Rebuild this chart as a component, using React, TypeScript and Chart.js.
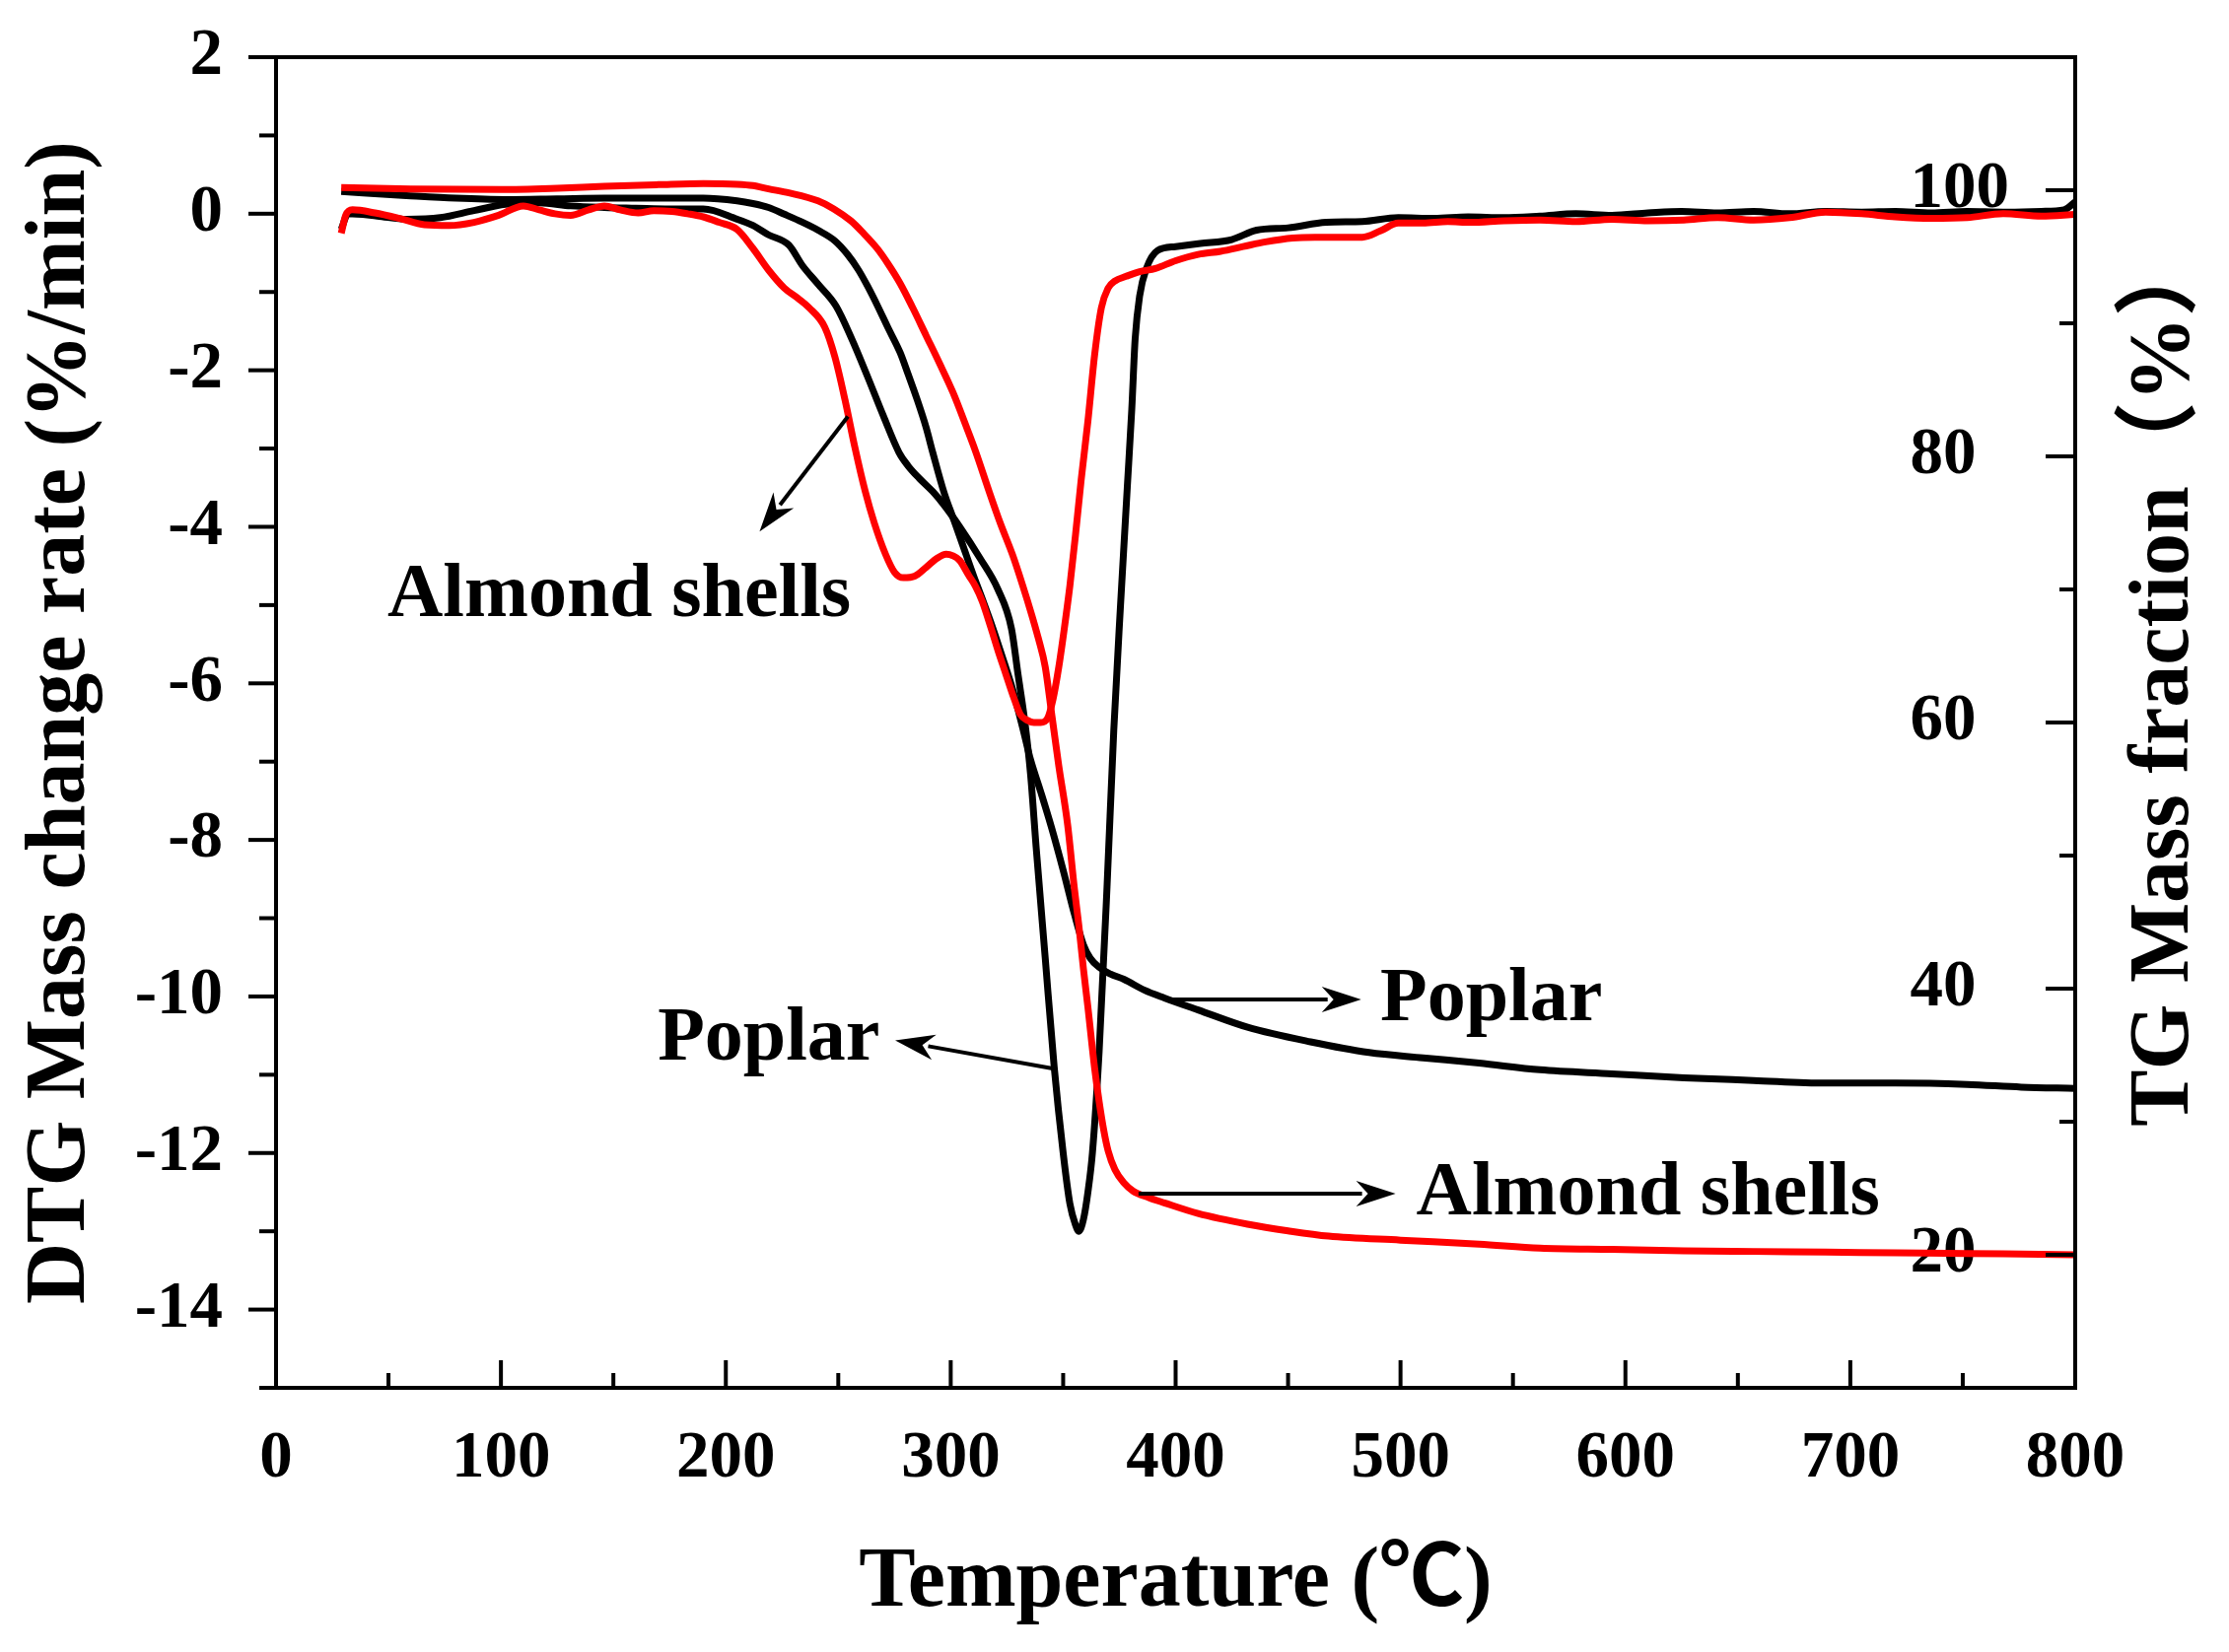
import React, { useEffect, useRef } from 'react';
import { Chart, registerables } from 'chart.js';

Chart.register(...registerables);

// ---------- data (temperature in °C) ----------
// Poplar DTG (%/min), left axis
const poplarDtgT = [29, 32, 45, 58, 73, 88, 102, 117, 131, 146, 160, 175, 190, 205, 212, 219, 228, 234, 241, 249, 256, 263, 270, 277, 281, 286, 292, 297, 304, 313, 321, 327, 330, 333, 335.5, 338, 342, 346, 350, 353, 355.5, 357, 359, 361, 363, 366, 369.5, 372.5, 375.5, 378.5, 380.5, 382, 384, 387, 392, 400, 411, 425, 436, 450, 467, 483, 499, 515, 530, 546, 562, 578, 594, 610, 625, 641, 657, 673, 689, 705, 720, 736, 752, 768, 785, 795, 800];
const poplarDtgV = [-0.2, 0.0, -0.03, -0.07, -0.05, 0.04, 0.12, 0.14, 0.1, 0.08, 0.07, 0.06, 0.06, -0.07, -0.15, -0.27, -0.4, -0.66, -0.9, -1.18, -1.6, -2.08, -2.58, -3.05, -3.22, -3.38, -3.55, -3.72, -4.0, -4.4, -4.8, -5.3, -5.9, -6.5, -7.16, -8.1, -9.5, -10.9, -12.0, -12.65, -12.92, -13.0, -12.85, -12.5, -12.0, -10.7, -8.6, -6.6, -5.0, -3.5, -2.5, -1.6, -1.05, -0.7, -0.47, -0.42, -0.38, -0.33, -0.21, -0.18, -0.11, -0.1, -0.05, -0.06, -0.04, -0.05, -0.03, 0.0, -0.02, 0.01, 0.03, 0.01, 0.03, 0.0, 0.03, 0.02, 0.03, 0.01, 0.03, 0.02, 0.03, 0.05, 0.15];

// Almond shells DTG (%/min), left axis
const almondDtgT = [29, 31, 34, 44, 55, 66, 77, 88, 99, 110, 117, 124, 131, 139, 146, 153, 161, 168, 176, 183, 190, 197, 205, 212, 219, 226, 232, 237, 244, 248.5, 253, 257.5, 262, 266, 271, 275, 279, 284, 289, 294, 298, 301, 304, 308, 311, 314, 318, 321, 324.5, 328, 331, 334, 337, 340, 343, 345.5, 348, 350.5, 353, 355.5, 358, 361, 364, 367, 370, 373, 378, 384, 391, 400, 410, 420, 430, 440, 452, 462, 472, 483, 491, 499, 510, 521, 531, 546, 562, 578, 594, 610, 626, 641, 657, 673, 689, 705, 720, 736, 752, 768, 785, 800];
const almondDtgV = [-0.25, -0.02, 0.05, 0.01, -0.06, -0.14, -0.15, -0.11, -0.02, 0.1, 0.05, 0.0, -0.02, 0.05, 0.1, 0.05, 0.01, 0.04, 0.03, 0.0, -0.04, -0.11, -0.2, -0.44, -0.72, -0.95, -1.08, -1.2, -1.45, -1.83, -2.38, -3.0, -3.55, -3.95, -4.35, -4.58, -4.65, -4.63, -4.52, -4.4, -4.35, -4.37, -4.43, -4.62, -4.76, -4.95, -5.3, -5.58, -5.88, -6.18, -6.4, -6.47, -6.5, -6.5, -6.45, -6.2, -5.8, -5.3, -4.75, -4.1, -3.4, -2.65, -1.8, -1.2, -0.95, -0.86, -0.8, -0.74, -0.7, -0.6, -0.52, -0.48, -0.42, -0.36, -0.31, -0.3, -0.3, -0.3, -0.22, -0.12, -0.12, -0.1, -0.11, -0.09, -0.08, -0.1, -0.07, -0.09, -0.08, -0.05, -0.08, -0.05, 0.02, 0.0, -0.04, -0.06, -0.05, 0.0, -0.03, -0.01];

// Poplar TG (%), right axis
const poplarTgT = [29, 58, 80, 102, 125, 146, 170, 190, 205, 212, 219, 226, 234, 241, 248.5, 254, 259, 263, 267.5, 272, 277.5, 281, 285, 289, 292, 297, 301, 305, 310, 314, 318.5, 323, 327.5, 332, 335.5, 340, 345, 350, 355, 359, 362, 366, 371, 377, 386, 395, 410, 432, 460, 486, 510, 535, 562, 594, 626, 657, 689, 720, 752, 776, 800];
const poplarTgV = [99.9, 99.6, 99.4, 99.3, 99.35, 99.4, 99.4, 99.4, 99.2, 99.0, 98.7, 98.2, 97.6, 97.0, 96.2, 95.2, 94.0, 92.8, 91.3, 89.7, 87.8, 86.2, 84.3, 82.2, 80.3, 77.3, 75.4, 73.5, 71.1, 69.3, 67.2, 64.9, 62.5, 59.6, 57.2, 54.8, 52.0, 48.9, 45.6, 43.3, 42.3, 41.6, 41.1, 40.7, 39.9, 39.3, 38.4, 37.1, 36.0, 35.2, 34.8, 34.4, 33.9, 33.6, 33.3, 33.1, 32.9, 32.9, 32.8, 32.6, 32.5];

// Almond shells TG (%), right axis
const almondTgT = [29, 60, 100, 125, 146, 170, 190, 205, 212, 219, 228, 241, 248, 255.6, 261, 267.4, 272, 277.5, 283, 289, 295, 301, 307, 311, 317, 322, 327.5, 332, 336, 339, 342, 345, 348, 352, 355, 357, 359, 361, 364, 366, 368, 370, 373, 377, 381, 388, 395, 410, 432, 450, 468, 500, 535, 562, 594, 626, 657, 689, 720, 752, 776, 800];
const almondTgV = [100.2, 100.1, 100.05, 100.15, 100.3, 100.42, 100.5, 100.45, 100.35, 100.1, 99.8, 99.2, 98.6, 97.7, 96.8, 95.6, 94.5, 93.0, 91.2, 89.1, 87.0, 84.8, 82.2, 80.4, 77.4, 75.0, 72.6, 70.3, 68.1, 66.3, 64.2, 60.5, 56.8, 52.3, 47.5, 44.7, 41.5, 38.6, 34.0, 31.5, 29.4, 27.8, 26.4, 25.4, 24.8, 24.3, 23.9, 23.1, 22.3, 21.8, 21.4, 21.1, 20.8, 20.5, 20.4, 20.3, 20.25, 20.2, 20.15, 20.1, 20.05, 20.0];

// Axis titles
const xTitle = 'Temperature (℃)';
const leftTitle = 'DTG Mass change rate (%/min)';
const rightTitle = 'TG Mass fraction（%）';

// Annotations (data units: temperature, DTG value)
const noteTexts = ['Almond shells', 'Poplar', 'Poplar', 'Almond shells'];
const noteX = [49.5, 169.7, 491, 507];
const noteY = [-5.14, -10.81, -10.3, -12.78];
const arrowFromX = [254.3, 345.3, 397.1, 383.5];
const arrowFromY = [-2.59, -10.92, -10.04, -12.52];
const arrowToX = [215, 275.3, 482.5, 497.8];
const arrowToY = [-4.06, -10.56, -10.04, -12.52];

const FONT = "'Liberation Serif', 'Times New Roman', 'Noto Sans CJK SC', serif";

const toPts = (xs: number[], ys: number[]) => xs.map((x, i) => ({ x, y: ys[i] }));

const framePlugin = {
  id: 'frameTicks',
  afterDraw(chart: any) {
    const { ctx, chartArea, scales } = chart;
    const { left, right, top, bottom } = chartArea;
    ctx.save();
    ctx.strokeStyle = '#000';
    ctx.lineWidth = 4;
    ctx.lineCap = 'butt';
    const seg = (x1: number, y1: number, x2: number, y2: number) => {
      ctx.beginPath();
      ctx.moveTo(x1, y1);
      ctx.lineTo(x2, y2);
      ctx.stroke();
    };
    scales.x.ticks.forEach((t: any) => {
      const px = scales.x.getPixelForValue(t.value);
      const len = Math.round(t.value) % 100 === 0 ? 28 : 15;
      seg(px, bottom, px, bottom - len);
    });
    scales.y.ticks.forEach((t: any) => {
      const py = scales.y.getPixelForValue(t.value);
      const len = Math.abs(Math.round(t.value)) % 2 === 0 ? 28 : 17;
      seg(left, py, left - len, py);
    });
    scales.y2.ticks.forEach((t: any) => {
      if (t.value <= 10 || t.value >= 110) return;
      const py = scales.y2.getPixelForValue(t.value);
      const len = Math.round(t.value) % 20 === 0 ? 30 : 16;
      seg(right, py, right - len, py);
    });
    ctx.lineJoin = 'miter';
    ctx.strokeRect(left, top, right - left, bottom - top);

    // right axis title (reads bottom to top)
    ctx.fillStyle = '#000';
    ctx.font = `bold 86px ${FONT}`;
    ctx.textAlign = 'center';
    ctx.textBaseline = 'middle';
    ctx.translate(right + 92, (top + bottom) / 2 - 44);
    ctx.rotate(-Math.PI / 2);
    ctx.fillText(rightTitle, 0, 0);
    ctx.restore();
  },
};

const notePlugin = {
  id: 'notes',
  afterDatasetsDraw(chart: any) {
    const { ctx, scales } = chart;
    const sx = scales.x;
    const sy = scales.y;
    ctx.save();
    ctx.fillStyle = '#000';
    ctx.strokeStyle = '#000';
    ctx.font = `bold 78px ${FONT}`;
    ctx.textAlign = 'left';
    ctx.textBaseline = 'alphabetic';
    noteTexts.forEach((t, i) => {
      ctx.fillText(t, sx.getPixelForValue(noteX[i]), sy.getPixelForValue(noteY[i]));
    });
    arrowFromX.forEach((_, i) => {
      const x1 = sx.getPixelForValue(arrowFromX[i]);
      const y1 = sy.getPixelForValue(arrowFromY[i]);
      const x2 = sx.getPixelForValue(arrowToX[i]);
      const y2 = sy.getPixelForValue(arrowToY[i]);
      const ang = Math.atan2(y2 - y1, x2 - x1);
      const headLen = 40;
      const headW = 13;
      const bx = x2 - headLen * Math.cos(ang);
      const by = y2 - headLen * Math.sin(ang);
      ctx.lineWidth = 4;
      ctx.beginPath();
      ctx.moveTo(x1, y1);
      ctx.lineTo(bx + 6 * Math.cos(ang), by + 6 * Math.sin(ang));
      ctx.stroke();
      ctx.beginPath();
      ctx.moveTo(x2, y2);
      ctx.lineTo(bx + headW * Math.sin(ang), by - headW * Math.cos(ang));
      ctx.lineTo(bx + 0.3 * headLen * Math.cos(ang), by + 0.3 * headLen * Math.sin(ang));
      ctx.lineTo(bx - headW * Math.sin(ang), by + headW * Math.cos(ang));
      ctx.closePath();
      ctx.fill();
    });
    ctx.restore();
  },
};

export default function App() {
  const ref = useRef<HTMLCanvasElement | null>(null);

  useEffect(() => {
    if (!ref.current) return;
    const tickFont = { family: FONT, size: 67, weight: 'bold' as const, lineHeight: 1.2 };
    const titleFont = { family: FONT, size: 86, weight: 'bold' as const, lineHeight: 1.2 };
    const common = {
      borderWidth: 7,
      pointRadius: 0,
      pointHoverRadius: 0,
      fill: false,
      cubicInterpolationMode: 'monotone' as const,
    };
    const chart = new Chart(ref.current, {
      type: 'line',
      data: {
        datasets: [
          { ...common, label: 'Almond shells DTG', data: toPts(almondDtgT, almondDtgV), borderColor: '#ff0000', yAxisID: 'y' },
          { ...common, label: 'Almond shells TG', data: toPts(almondTgT, almondTgV), borderColor: '#ff0000', yAxisID: 'y2' },
          { ...common, label: 'Poplar DTG', data: toPts(poplarDtgT, poplarDtgV), borderColor: '#000000', yAxisID: 'y' },
          { ...common, label: 'Poplar TG', data: toPts(poplarTgT, poplarTgV), borderColor: '#000000', yAxisID: 'y2' },
        ],
      },
      options: {
        animation: false,
        responsive: true,
        maintainAspectRatio: false,
        devicePixelRatio: 1,
        layout: { padding: { top: 58, left: 0, right: 0, bottom: 0 } },
        plugins: { legend: { display: false }, tooltip: { enabled: false } },
        events: [],
        scales: {
          x: {
            type: 'linear',
            min: 0,
            max: 800,
            grid: { display: false },
            border: { display: false },
            ticks: {
              stepSize: 50,
              autoSkip: false,
              maxRotation: 0,
              maxTicksLimit: 100,
              padding: 24,
              color: '#000',
              font: tickFont,
              callback: (v: any) => (Math.round(v) % 100 === 0 ? String(v) : ''),
            },
            title: { display: true, text: xTitle, color: '#000', font: titleFont, padding: { top: 0, bottom: 18 } },
            afterFit: (s: any) => { s.height = 268; s.paddingLeft = 0; s.paddingRight = 0; },
          },
          y: {
            type: 'linear',
            position: 'left',
            min: -15,
            max: 2,
            grid: { display: false },
            border: { display: false },
            ticks: {
              stepSize: 1,
              autoSkip: false,
              maxTicksLimit: 100,
              padding: 46,
              color: '#000',
              font: tickFont,
              callback: (v: any) => (Math.abs(Math.round(v)) % 2 === 0 ? String(v) : ''),
            },
            title: { display: true, text: leftTitle, color: '#000', font: titleFont, padding: { top: 11, bottom: 0 } },
            afterFit: (s: any) => { s.width = 280; s.paddingTop = 0; s.paddingBottom = 0; },
          },
          y2: {
            type: 'linear',
            position: 'right',
            min: 10,
            max: 110,
            grid: { display: false },
            border: { display: false },
            ticks: {
              stepSize: 10,
              autoSkip: false,
              maxTicksLimit: 100,
              mirror: true,
              crossAlign: 'far',
              padding: -67,
              color: '#000',
              font: tickFont,
              callback: (v: any) => {
                const r = Math.round(v);
                return r % 20 === 0 && r >= 20 && r <= 100 ? String(r) : '';
              },
            },
            afterFit: (s: any) => { s.width = 156; s.paddingTop = 0; s.paddingBottom = 0; },
          },
        },
      },
      plugins: [framePlugin, notePlugin],
    } as any);
    return () => chart.destroy();
  }, []);

  return (
    <div style={{ position: 'absolute', left: 0, top: 0, width: 2261, height: 1676, background: '#fff' }}>
      <canvas ref={ref} />
    </div>
  );
}
